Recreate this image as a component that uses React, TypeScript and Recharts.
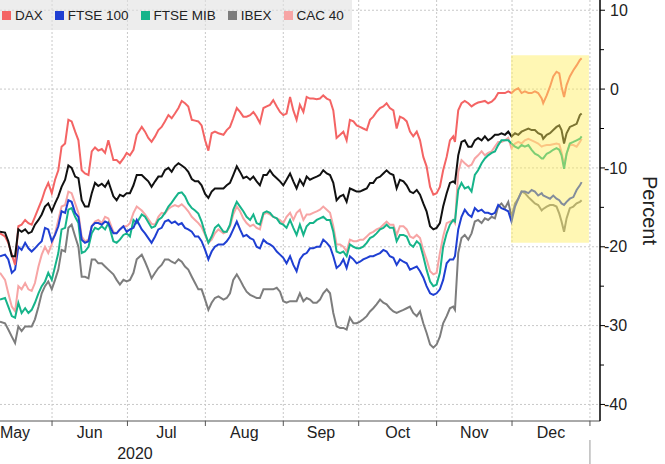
import React from "react";
import { LineChart, Line, XAxis, YAxis, CartesianGrid, ReferenceArea } from "recharts";

// x = days counted from 1 May 2020
const days = [
  10.3, 12.3, 13.6, 15.0, 16.3, 17.6, 18.9, 20.3, 21.6, 22.9, 24.2, 25.6, 26.9, 28.2, 29.5, 30.9, 32.2, 33.5, 34.8, 36.2, 37.5, 38.8, 40.2, 41.5, 42.8, 44.1, 45.5, 46.8, 48.1, 49.4, 50.8, 52.1, 53.4,
  55.4, 56.7, 58.0, 59.4, 60.7, 62.0, 63.4, 64.7, 66.7, 68.0, 69.3, 70.6, 72.0, 73.3, 74.6, 75.9, 77.3, 78.6, 79.9, 81.3, 82.6, 83.9, 85.2, 86.6, 87.9, 89.2, 90.5, 91.9, 93.2, 94.5, 95.8, 97.2,
  99.2, 100.5, 101.8, 103.1, 104.5, 105.8, 107.1, 108.4, 109.8, 111.1, 112.4, 113.7, 115.1, 116.4, 117.7, 119.0, 120.4, 121.7, 123.0, 124.3, 125.7, 127.0, 128.3, 129.6, 131.0, 132.3, 133.6, 134.9, 136.3, 137.6, 138.9, 140.3,
  141.6, 142.9, 144.2, 145.6, 146.9, 148.2, 149.5, 150.9, 152.2, 153.5, 154.8, 156.2, 157.5, 158.8, 160.1, 161.5, 162.8, 164.1, 165.4, 166.8, 168.1, 169.4, 170.8, 172.1, 173.4, 174.7, 176.1, 177.4, 178.7, 180.0, 181.4, 182.7, 184.0,
  185.3, 186.6, 188.0, 189.3, 190.6, 191.3, 192.6, 193.9, 195.2, 196.6, 197.9, 199.2, 200.5, 201.9, 203.2, 204.5, 205.9, 207.2, 208.5, 209.8, 211.2, 212.5,
  213.8, 215.2, 216.5, 217.8, 219.1, 220.5, 221.8, 223.1, 224.4, 225.8, 226.4, 227.8, 229.1, 230.4, 231.7, 232.8, 233.7, 234.7, 235.7, 237.0, 238.4, 239.7, 241.0, 241.7,
];

const stoxx600 = [
  -18.1, -18.2, -19.3, -21.2, -21.2, -17.8, -18.1, -17.8, -18.3, -18.1, -17.2, -16.6, -15.9, -14.9, -14.5, -15.5, -14.5, -13.6, -12.4, -11.5, -9.7, -10.0, -11.1, -11.3, -14.1, -14.9, -14.9, -13.2, -11.9, -12.3, -12.0, -12.4, -11.7,
  -13.6, -14.1, -13.4, -13.6, -13.2, -13.2, -12.2, -10.9, -10.9, -11.3, -11.7, -12.4, -11.7, -11.1, -11.1, -10.3, -10.0, -10.5, -9.8, -9.4, -9.7, -10.0, -10.5, -11.4, -11.7, -11.7, -12.2, -13.3, -13.8, -13.0, -12.6, -12.6,
  -12.6, -12.2, -11.9, -10.9, -9.8, -10.5, -11.3, -11.1, -11.5, -11.1, -11.7, -12.2, -10.9, -10.9, -10.3, -10.9, -11.3, -11.7, -12.2, -11.5, -10.7, -11.7, -12.6, -11.5, -12.2, -11.1, -11.5, -11.3, -11.1, -10.9, -10.3, -10.7,
  -10.9, -11.9, -14.1, -13.6, -13.4, -14.3, -12.6, -12.8, -13.0, -13.0, -12.8, -12.6, -11.9, -11.9, -11.3, -11.1, -10.7, -10.3, -10.7, -10.9, -12.6, -11.5, -11.7, -12.2, -13.0, -13.2, -12.8, -13.4, -14.5, -15.5, -17.4, -17.8, -17.6,
  -17.0, -14.9, -13.2, -11.9, -11.7, -11.9, -8.4, -6.7, -6.5, -7.3, -7.3, -6.5, -6.2, -6.5, -6.0, -6.5, -6.2, -5.8, -5.8, -5.6, -5.8, -5.4,
  -6.0, -5.6, -5.8, -5.4, -5.2, -5.0, -5.2, -5.2, -5.6, -5.8, -6.3, -5.8, -5.6, -5.2, -4.8, -4.6, -5.2, -6.9, -5.6, -4.8, -4.6, -4.4, -3.3, -3.1,
];

const dax = [
  -18.3, -18.7, -19.5, -21.0, -22.3, -17.4, -17.2, -16.6, -17.0, -17.2, -16.2, -15.1, -14.1, -12.8, -11.9, -13.2, -11.5, -10.3, -7.3, -6.9, -3.9, -4.1, -5.4, -6.5, -10.3, -10.7, -10.9, -7.9, -7.4, -7.8, -7.6, -8.1, -6.5,
  -9.0, -9.0, -9.4, -8.8, -8.1, -8.4, -7.7, -5.8, -4.8, -5.4, -6.2, -6.7, -6.0, -5.2, -4.8, -4.1, -3.3, -3.7, -3.1, -2.4, -1.5, -1.8, -2.2, -3.9, -4.0, -4.1, -4.6, -6.5, -7.8, -5.6, -5.4, -5.6,
  -5.8, -5.2, -4.8, -3.7, -2.4, -2.9, -3.5, -3.5, -3.3, -2.9, -3.5, -4.3, -2.4, -2.2, -2.0, -1.4, -2.2, -2.9, -3.3, -3.1, -1.0, -2.7, -3.9, -2.0, -2.9, -1.0, -1.2, -1.2, -1.3, -1.2, -0.8, -1.2,
  -1.4, -2.7, -6.2, -5.8, -5.4, -6.5, -3.9, -4.1, -4.6, -4.8, -5.0, -5.2, -3.9, -3.5, -2.9, -2.4, -2.2, -1.8, -2.4, -2.7, -5.0, -3.5, -3.7, -4.1, -5.4, -6.0, -5.4, -6.5, -8.6, -9.8, -12.4, -13.4, -13.2,
  -12.4, -10.3, -8.6, -6.5, -6.0, -6.7, -2.7, -1.8, -1.5, -1.8, -2.2, -1.9, -1.7, -1.6, -1.5, -1.8, -1.6, -1.2, -0.5, -0.5, -0.5, -0.3,
  -0.5, -0.1, 0.1, -0.5, -0.3, -0.5, -0.5, -0.3, -0.5, -1.2, -1.8, -0.8, 0.3, 1.6, 2.2, 2.0, 0.3, -1.0, 0.5, 1.6, 2.4, 3.0, 3.7, 3.9,
];

const ftse100 = [
  -21.2, -21.0, -21.6, -23.3, -22.9, -20.0, -20.4, -19.5, -20.2, -20.6, -20.2, -19.7, -19.3, -17.6, -17.8, -19.3, -18.5, -17.4, -15.5, -15.7, -14.1, -14.3, -15.7, -16.2, -19.1, -19.5, -19.3, -17.4, -17.0, -17.0, -17.2, -16.8, -17.0,
  -18.3, -18.3, -17.8, -17.4, -18.1, -17.8, -17.6, -16.6, -17.8, -18.3, -18.9, -19.5, -18.7, -17.8, -17.6, -16.8, -16.6, -17.0, -16.8, -17.2, -17.0, -17.6, -17.8, -18.1, -18.7, -18.7, -19.3, -20.4, -21.6, -20.6, -20.0, -19.7,
  -19.7, -19.3, -18.7, -17.8, -16.8, -17.8, -18.7, -18.5, -18.9, -19.1, -20.0, -20.2, -19.1, -19.5, -19.7, -20.0, -20.6, -21.0, -21.4, -22.1, -21.2, -22.3, -23.1, -21.6, -21.0, -20.8, -20.2, -20.2, -20.0, -20.0, -19.1, -19.5,
  -20.0, -21.2, -22.7, -22.3, -21.6, -22.7, -21.2, -21.6, -22.1, -21.9, -21.6, -21.4, -21.2, -21.2, -21.0, -20.8, -20.4, -20.6, -21.2, -21.4, -22.3, -21.6, -21.9, -22.1, -22.9, -22.7, -22.5, -23.1, -23.9, -25.0, -25.9, -26.1, -25.9,
  -25.4, -24.2, -22.1, -21.6, -21.6, -21.2, -17.8, -16.2, -15.3, -15.9, -16.2, -15.1, -15.5, -15.3, -15.7, -15.7, -15.9, -15.7, -14.7, -15.1, -15.3, -15.5,
  -16.8, -14.9, -13.9, -13.0, -13.0, -13.2, -12.8, -13.0, -13.5, -13.2, -13.5, -13.7, -13.9, -13.5, -13.9, -14.1, -14.5, -14.7, -14.3, -13.9, -13.7, -12.8, -12.2, -11.8,
];

const ftseMib = [
  -26.7, -26.5, -27.6, -28.8, -29.0, -27.1, -28.4, -27.8, -28.4, -28.0, -27.1, -25.9, -25.0, -24.4, -23.3, -24.2, -22.5, -20.8, -17.8, -17.6, -15.3, -15.1, -16.2, -17.0, -20.8, -20.6, -20.0, -18.3, -17.6, -17.8, -17.4, -17.8, -17.0,
  -19.3, -19.5, -19.1, -18.5, -18.3, -18.7, -16.6, -17.0, -15.9, -16.2, -16.9, -17.6, -17.4, -16.6, -16.3, -15.7, -14.9, -14.4, -13.8, -13.2, -13.1, -13.6, -14.5, -15.1, -15.4, -15.8, -16.8, -18.3, -19.5, -18.7, -17.6, -17.2,
  -18.1, -18.1, -17.2, -15.3, -14.3, -14.9, -15.5, -16.2, -16.6, -15.9, -17.0, -17.2, -15.7, -15.5, -15.7, -16.2, -16.4, -17.0, -17.2, -17.6, -16.6, -17.6, -18.5, -17.2, -18.5, -17.4, -17.0, -17.0, -16.6, -16.4, -16.2, -16.6,
  -16.6, -18.1, -20.6, -20.8, -20.6, -21.2, -19.7, -20.0, -20.2, -20.2, -20.0, -19.5, -18.9, -18.7, -18.3, -17.8, -17.6, -17.2, -17.6, -17.6, -19.3, -18.5, -18.5, -18.7, -19.7, -20.0, -19.3, -19.7, -21.2, -22.9, -24.4, -25.0, -24.8,
  -23.3, -20.0, -18.3, -17.2, -16.6, -16.8, -12.8, -11.9, -12.6, -12.4, -13.0, -10.9, -10.3, -9.4, -8.8, -8.4, -8.1, -7.9, -7.1, -6.5, -6.5, -6.5,
  -6.9, -7.3, -7.5, -7.1, -7.3, -7.1, -7.7, -8.2, -8.4, -8.8, -8.8, -8.2, -8.0, -7.7, -7.5, -7.7, -8.4, -10.1, -8.2, -6.9, -6.7, -6.5, -6.3, -6.0,
];

const ibex = [
  -29.5, -29.7, -30.5, -31.4, -32.2, -30.1, -30.7, -30.1, -30.1, -30.1, -29.2, -27.6, -25.9, -25.0, -24.4, -25.4, -24.2, -22.9, -20.4, -20.6, -17.6, -17.2, -18.7, -20.0, -23.8, -23.8, -24.0, -21.6, -21.6, -22.1, -22.1, -22.5, -22.9,
  -23.5, -24.2, -24.8, -24.2, -24.4, -24.2, -23.3, -21.6, -21.0, -21.9, -22.9, -24.0, -23.3, -22.7, -22.3, -21.6, -21.6, -21.9, -22.1, -21.6, -21.9, -22.5, -22.9, -23.8, -24.6, -25.4, -25.4, -26.7, -28.0, -27.1, -26.5, -26.3,
  -26.7, -26.5, -25.9, -24.2, -23.5, -24.2, -25.0, -25.7, -26.1, -26.3, -26.5, -26.5, -25.4, -25.4, -25.4, -25.4, -25.2, -25.7, -26.9, -27.1, -26.9, -26.9, -26.9, -25.9, -26.9, -26.5, -26.7, -27.1, -27.1, -26.7, -25.9, -25.4,
  -25.9, -28.4, -30.1, -30.3, -30.3, -30.5, -29.0, -29.7, -29.7, -29.5, -29.2, -28.8, -28.2, -27.8, -27.3, -26.7, -27.1, -27.3, -27.8, -28.2, -28.4, -28.2, -28.0, -27.8, -27.6, -28.4, -28.8, -28.2, -29.7, -30.9, -32.4, -32.8, -32.4,
  -31.4, -29.7, -28.8, -27.8, -27.6, -28.0, -20.8, -18.9, -18.5, -19.1, -18.3, -16.8, -16.6, -17.0, -16.4, -16.6, -16.2, -16.4, -14.9, -14.5, -15.1, -14.3,
  -16.2, -14.5, -13.9, -13.0, -13.2, -13.7, -14.1, -14.5, -14.7, -15.4, -15.2, -14.9, -14.7, -14.7, -14.9, -15.8, -16.8, -18.1, -16.4, -15.1, -14.9, -14.5, -14.3, -14.1,
];

const cac40 = [
  -23.3, -24.2, -25.9, -27.6, -28.2, -25.0, -25.4, -24.6, -25.4, -25.6, -24.6, -22.5, -21.0, -20.0, -20.8, -19.7, -18.3, -16.6, -14.9, -14.7, -13.0, -13.2, -14.5, -15.7, -18.7, -19.3, -19.1, -17.4, -16.8, -16.6, -17.0, -16.2, -16.4,
  -18.1, -18.3, -17.8, -17.4, -17.4, -17.0, -15.7, -14.9, -15.4, -15.9, -16.5, -17.1, -17.2, -16.2, -15.7, -15.8, -15.2, -14.9, -14.7, -14.9, -14.6, -15.0, -15.5, -16.2, -16.6, -17.0, -17.5, -18.5, -19.5, -19.1, -18.3, -17.8,
  -18.3, -18.1, -17.4, -15.9, -14.9, -15.5, -16.4, -17.0, -17.4, -17.2, -17.6, -17.8, -15.9, -15.7, -15.9, -16.2, -16.4, -16.6, -17.0, -16.2, -15.7, -16.6, -15.7, -15.3, -16.6, -15.9, -15.9, -15.7, -15.5, -15.3, -14.9, -15.3,
  -15.7, -17.4, -19.7, -19.7, -20.0, -20.6, -19.1, -19.3, -19.3, -19.1, -19.1, -18.7, -18.3, -18.1, -17.8, -17.6, -17.2, -16.8, -17.2, -17.2, -18.5, -17.4, -17.4, -17.8, -18.7, -18.9, -18.5, -18.9, -20.4, -21.6, -23.1, -23.5, -23.3,
  -20.8, -18.7, -17.0, -16.8, -16.6, -17.0, -10.5, -9.0, -9.4, -9.8, -9.6, -8.8, -8.4, -7.9, -8.4, -8.1, -7.9, -7.3, -6.7, -6.7, -6.5, -6.2,
  -7.5, -6.9, -6.7, -6.9, -6.5, -6.3, -6.5, -6.7, -6.9, -7.3, -7.2, -7.1, -7.1, -7.0, -6.9, -7.0, -8.0, -9.6, -8.2, -7.1, -7.1, -7.3, -6.7, -6.3,
];

// axis ticks (days from 1 May 2020)
const monthStarts = [31, 61, 92, 123, 153, 184, 214, 245];
const monthMids = [15.5, 46, 76.5, 107.5, 138, 168.5, 199, 229.5];
const monthNames = ["May", "Jun", "Jul", "Aug", "Sep", "Oct", "Nov", "Dec"];
const yearTicks = [64];
const yearNames = ["2020"];
const yearEnd = 245;

const yMajor = [10, 0, -10, -20, -30, -40];
const yMinor = [5, -5, -15, -25, -35];

// highlighted December window
const highlightDays = [213.6, 244.6];
const highlightRange = [-19.5, 4.3];

const legendItems = [
  { name: "DAX", color: "#f46464" },
  { name: "FTSE 100", color: "#1f3fd2" },
  { name: "FTSE MIB", color: "#16b48a" },
  { name: "IBEX", color: "#7d7d7d" },
  { name: "CAC 40", color: "#f7a5a5" },
];

const data = days.map((d, i) => ({
  day: d,
  stoxx600: stoxx600[i],
  dax: dax[i],
  ftse100: ftse100[i],
  ftseMib: ftseMib[i],
  ibex: ibex[i],
  cac40: cac40[i],
}));

const X_DOMAIN = [10.3, 249];
const Y_DOMAIN = [-42.1, 11.3];
const FONT = "'Liberation Sans', Arial, sans-serif";

const XTick = (props: any) => {
  const { x, y, payload } = props;
  const v = payload.value;
  const mi = monthMids.indexOf(v);
  if (mi >= 0) {
    // keep the first month label inside the picture
    const tx = Math.max(x, 15);
    return (
      <text x={tx} y={y + 17} textAnchor="middle" fontSize={16} fill="#222" fontFamily={FONT}>
        {monthNames[mi]}
      </text>
    );
  }
  const yi = yearTicks.indexOf(v);
  if (yi >= 0) {
    return (
      <text x={x} y={y + 38} textAnchor="middle" fontSize={16} fill="#222" fontFamily={FONT}>
        {yearNames[yi]}
      </text>
    );
  }
  return (
    <g>
      <line x1={x} x2={x} y1={y} y2={y + 5} stroke="#555" />
      {v === yearEnd && <line x1={x} x2={x} y1={y + 19} y2={y + 43} stroke="#999" />}
    </g>
  );
};

const YTick = (props: any) => {
  const { x, y, payload } = props;
  const v = payload.value;
  if (yMinor.includes(v)) {
    return <line x1={x} x2={x + 4} y1={y} y2={y} stroke="#000" />;
  }
  return (
    <g>
      <line x1={x} x2={x + 5} y1={y} y2={y} stroke="#000" />
      <text
        x={v < 0 ? x + 4 : x + 10}
        y={y}
        dy="0.35em"
        textAnchor="start"
        fontSize={16}
        fill="#222"
        fontFamily={FONT}
      >
        {v}
      </text>
    </g>
  );
};

const PercentLabel = (props: any) => {
  const { x, y, width, height } = props.viewBox;
  const cx = x + width - 15;
  const cy = y + height / 2;
  return (
    <text
      x={cx}
      y={cy}
      transform={`rotate(90 ${cx} ${cy})`}
      textAnchor="middle"
      dominantBaseline="central"
      fontSize={20}
      fill="#222"
      fontFamily={FONT}
    >
      Percent
    </text>
  );
};

export default function App() {
  const xTicks = [...monthStarts, ...monthMids, ...yearTicks].sort((a, b) => a - b);
  const yTicks = [...yMajor, ...yMinor].sort((a, b) => b - a);

  return (
    <div style={{ position: "absolute", left: 0, top: 0, width: 665, height: 464, background: "#fff" }}>
      <LineChart width={665} height={464} data={data} margin={{ top: 0, right: 0, bottom: 0, left: 0 }}>
        <CartesianGrid
          stroke="#c8c8c8"
          strokeDasharray="2 2"
          horizontalValues={yMajor}
          verticalValues={monthStarts}
        />
        <XAxis
          dataKey="day"
          type="number"
          domain={X_DOMAIN}
          ticks={xTicks}
          interval={0}
          tick={<XTick />}
          tickLine={false}
          tickSize={0}
          tickMargin={0}
          height={43}
          axisLine={{ stroke: "#555" }}
        />
        <YAxis
          orientation="right"
          type="number"
          domain={Y_DOMAIN}
          ticks={yTicks}
          interval={0}
          tick={<YTick />}
          tickLine={false}
          tickSize={0}
          tickMargin={0}
          width={65}
          axisLine={{ stroke: "#000", strokeWidth: 1.5 }}
          label={PercentLabel}
        />
        <Line dataKey="ibex" stroke="#7d7d7d" strokeWidth={2} dot={false} isAnimationActive={false} />
        <Line dataKey="cac40" stroke="#f7a5a5" strokeWidth={2} dot={false} isAnimationActive={false} />
        <Line dataKey="ftseMib" stroke="#16b48a" strokeWidth={2} dot={false} isAnimationActive={false} />
        <Line dataKey="ftse100" stroke="#1f3fd2" strokeWidth={2} dot={false} isAnimationActive={false} />
        <Line dataKey="dax" stroke="#f46464" strokeWidth={2} dot={false} isAnimationActive={false} />
        <Line dataKey="stoxx600" stroke="#111" strokeWidth={2} dot={false} isAnimationActive={false} />
      </LineChart>

      {/* same plot area on top, only for the translucent December highlight */}
      <div style={{ position: "absolute", left: 0, top: 0, pointerEvents: "none" }}>
        <LineChart width={665} height={464} data={data} margin={{ top: 0, right: 65, bottom: 43, left: 0 }}>
          <XAxis dataKey="day" type="number" domain={X_DOMAIN} allowDataOverflow hide />
          <YAxis type="number" domain={Y_DOMAIN} allowDataOverflow hide />
          <Line dataKey="dax" stroke="none" strokeWidth={0} dot={false} activeDot={false} isAnimationActive={false} />
          <ReferenceArea
            x1={highlightDays[0]}
            x2={highlightDays[1]}
            y1={highlightRange[0]}
            y2={highlightRange[1]}
            fill="#ffee58"
            fillOpacity={0.45}
            stroke="none"
            ifOverflow="visible"
          />
        </LineChart>
      </div>

      <div
        style={{
          position: "absolute",
          left: 0,
          top: 0,
          width: 352,
          height: 30,
          background: "rgba(225,225,225,0.6)",
          display: "flex",
          alignItems: "center",
          paddingLeft: 2,
          boxSizing: "border-box",
          fontFamily: FONT,
          fontSize: 13.5,
          color: "#222",
          whiteSpace: "nowrap",
        }}
      >
        {legendItems.map((it) => (
          <div key={it.name} style={{ display: "flex", alignItems: "center", marginRight: 12, flexShrink: 0 }}>
            <span style={{ width: 9, height: 9, background: it.color, display: "inline-block", marginRight: 4 }} />
            <span>{it.name}</span>
          </div>
        ))}
      </div>
    </div>
  );
}
